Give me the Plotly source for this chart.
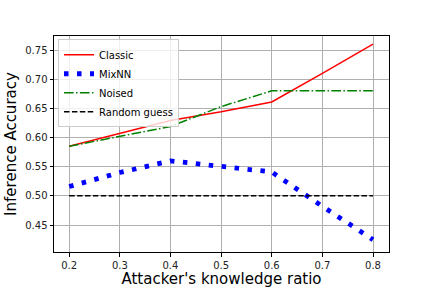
import plotly.graph_objects as go

ratios = [0.2, 0.3, 0.4, 0.5, 0.6, 0.7, 0.8]
classic = [0.585, 0.607, 0.629, 0.644, 0.661, 0.71, 0.76]
mixnn = [0.516, 0.54, 0.56, 0.55, 0.541, 0.482, 0.425]
noised = [0.585, 0.602, 0.619, 0.653, 0.68, 0.68, 0.68]
random_guess = [0.5, 0.5, 0.5, 0.5, 0.5, 0.5, 0.5]

x_ticks = [0.2, 0.3, 0.4, 0.5, 0.6, 0.7, 0.8]
y_ticks = [0.45, 0.50, 0.55, 0.60, 0.65, 0.70, 0.75]

fig = go.Figure()
fig.add_trace(go.Scatter(x=ratios, y=classic, mode="lines", name="Classic",
                         line=dict(color="#ff0000", width=1.5)))
fig.add_trace(go.Scatter(x=ratios, y=mixnn, mode="lines", name="MixNN",
                         line=dict(color="#0000ff", width=4.8, dash="4.5px,8.5px")))
fig.add_trace(go.Scatter(x=ratios, y=noised, mode="lines", name="Noised",
                         line=dict(color="#008000", width=1.5, dash="9.6px,2.4px,1.5px,2.4px")))
fig.add_trace(go.Scatter(x=ratios, y=random_guess, mode="lines", name="Random guess",
                         line=dict(color="#000000", width=1.5, dash="5.5px,2.4px")))

axis_common = dict(showgrid=True, gridcolor="#b0b0b0", gridwidth=0.8,
                   showline=True, linecolor="black", linewidth=1, mirror=True,
                   ticks="outside", ticklen=3.5, tickcolor="black",
                   tickfont=dict(family="DejaVu Sans", size=10, color="#222222"),
                   zeroline=False, automargin=False)

fig.update_layout(
    width=432, height=288,
    margin=dict(l=54, r=43, t=36, b=36),
    paper_bgcolor="white", plot_bgcolor="white",
    font=dict(family="DejaVu Sans", color="black"),
    xaxis=dict(range=[0.17, 0.8316], tickvals=x_ticks, tickformat=".1f",
               title=dict(text="Attacker's knowledge ratio", font=dict(size=15), standoff=2),
               **axis_common),
    yaxis=dict(range=[0.4038, 0.774], tickvals=y_ticks, tickformat=".2f",
               title=dict(text="Inference Accuracy", font=dict(size=15), standoff=4),
               **axis_common),
    legend=dict(x=0.012, y=0.985, xanchor="left", yanchor="top",
                bgcolor="rgba(255,255,255,0.8)", bordercolor="#cccccc", borderwidth=1,
                font=dict(size=10), tracegroupgap=0, itemwidth=30),
    showlegend=True,
)

fig.write_html("out.html", config={"displayModeBar": False},
               post_script="document.body.style.margin='0';document.body.style.padding='0';")
